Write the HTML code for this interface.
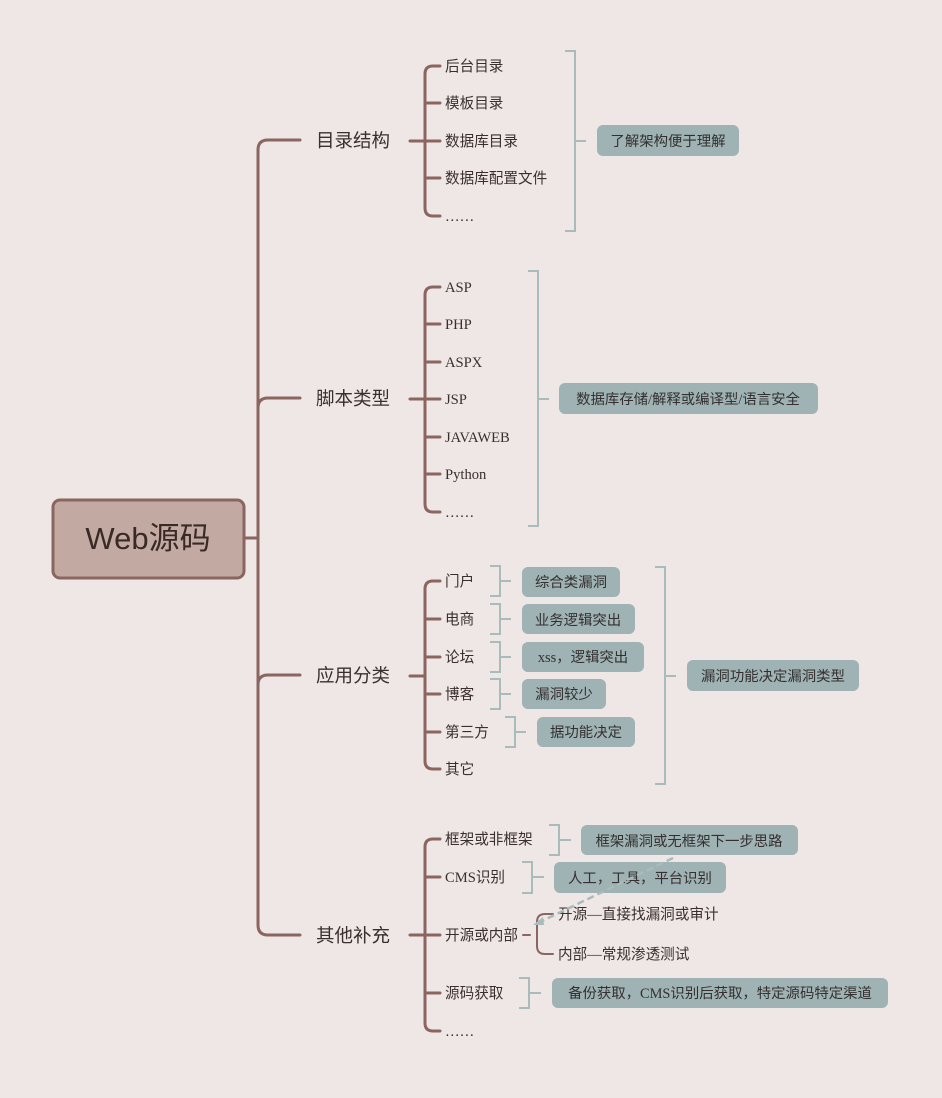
<!DOCTYPE html>
<html><head><meta charset="utf-8"><style>
html,body{margin:0;padding:0;background:#efe7e5;}
svg{display:block}
text{font-family:"Liberation Serif","Noto Sans CJK SC",serif;fill:#3a2f2d;}
.l1{font-size:18.5px;font-family:"Liberation Sans","Noto Sans CJK SC",sans-serif}
.c{font-size:14.6px}
.b{font-size:14.4px;fill:#33302f}
.br{stroke:#8b6660;stroke-width:3;fill:none;stroke-linecap:round}
.bk{stroke:#a9bcbc;stroke-width:2;fill:none}
.box{fill:#9fb2b4}
</style></head><body>
<svg width="942" height="1098" viewBox="0 0 942 1098" xmlns="http://www.w3.org/2000/svg">
<rect x="53" y="500" width="191" height="78" rx="7" fill="#c2aaa3" stroke="#8b6660" stroke-width="3"/>
<text x="148" y="549" text-anchor="middle" style="font-size:31px;font-family:'Liberation Sans','Noto Sans CJK SC',sans-serif;fill:#3a2a26">Web源码</text>
<path class="br" d="M244 538 H258"/>
<path class="br" d="M300 140 H268 Q258 140 258 150 V925 Q258 935 268 935 H300"/>
<path class="br" d="M258 408 Q258 398 268 398 H300"/>
<path class="br" d="M258 685 Q258 675 268 675 H300"/>
<text class="l1" x="316" y="147">目录结构</text>
<text class="l1" x="316" y="405">脚本类型</text>
<text class="l1" x="316" y="682">应用分类</text>
<text class="l1" x="316" y="942">其他补充</text>

<path class="br" d="M410 141 H425"/>
<path class="br" d="M440 66 H433 Q425 66 425 74 V208 Q425 216 433 216 H440"/>
<path class="br" d="M425 103 H440 M425 141 H440 M425 178 H440"/>
<text class="c" x="445" y="71">后台目录</text>
<text class="c" x="445" y="108">模板目录</text>
<text class="c" x="445" y="146">数据库目录</text>
<text class="c" x="445" y="183">数据库配置文件</text>
<text class="c" x="445" y="221">……</text>
<path class="bk" d="M565 51 H575 V231 H565 M575 141 H586"/>
<rect class="box" x="597" y="125" width="142" height="31" rx="6"/>
<text class="b" x="668" y="146" text-anchor="middle">了解架构便于理解</text>

<path class="br" d="M410 399 H425"/>
<path class="br" d="M440 287 H433 Q425 287 425 295 V504 Q425 512 433 512 H440"/>
<path class="br" d="M425 324 H440 M425 362 H440 M425 399 H440 M425 437 H440 M425 474 H440"/>
<text class="c" x="445" y="292">ASP</text>
<text class="c" x="445" y="329">PHP</text>
<text class="c" x="445" y="367">ASPX</text>
<text class="c" x="445" y="404">JSP</text>
<text class="c" x="445" y="442">JAVAWEB</text>
<text class="c" x="445" y="479">Python</text>
<text class="c" x="445" y="517">……</text>
<path class="bk" d="M528 271 H538 V526 H528 M538 399 H549"/>
<rect class="box" x="559" y="383" width="259" height="31" rx="6"/>
<text class="b" x="688" y="404" text-anchor="middle">数据库存储/解释或编译型/语言安全</text>

<path class="br" d="M410 676 H425"/>
<path class="br" d="M440 581 H433 Q425 581 425 589 V761 Q425 769 433 769 H440"/>
<path class="br" d="M425 619 H440 M425 657 H440 M425 694 H440 M425 732 H440"/>
<text class="c" x="445" y="586">门户</text>
<text class="c" x="445" y="624">电商</text>
<text class="c" x="445" y="662">论坛</text>
<text class="c" x="445" y="699">博客</text>
<text class="c" x="445" y="737">第三方</text>
<text class="c" x="445" y="774">其它</text>
<path class="bk" d="M490 566 H500 V596 H490 M500 581 H511"/>
<path class="bk" d="M490 604 H500 V634 H490 M500 619 H511"/>
<path class="bk" d="M490 642 H500 V672 H490 M500 657 H511"/>
<path class="bk" d="M490 679 H500 V709 H490 M500 694 H511"/>
<path class="bk" d="M505 717 H515 V747 H505 M515 732 H526"/>
<rect class="box" x="522" y="567" width="98" height="30" rx="6"/>
<text class="b" x="571" y="587" text-anchor="middle">综合类漏洞</text>
<rect class="box" x="522" y="604" width="113" height="30" rx="6"/>
<text class="b" x="578" y="625" text-anchor="middle">业务逻辑突出</text>
<rect class="box" x="522" y="642" width="122" height="30" rx="6"/>
<text class="b" x="583" y="662" text-anchor="middle">xss，逻辑突出</text>
<rect class="box" x="522" y="679" width="84" height="30" rx="6"/>
<text class="b" x="564" y="699" text-anchor="middle">漏洞较少</text>
<rect class="box" x="537" y="717" width="98" height="30" rx="6"/>
<text class="b" x="586" y="737" text-anchor="middle">据功能决定</text>
<path class="bk" d="M655 567 H665 V784 H655 M665 676 H676"/>
<rect class="box" x="687" y="660" width="172" height="31" rx="6"/>
<text class="b" x="773" y="681" text-anchor="middle">漏洞功能决定漏洞类型</text>

<path class="br" d="M410 935 H425"/>
<path class="br" d="M440 839 H433 Q425 839 425 847 V1023 Q425 1031 433 1031 H440"/>
<path class="br" d="M425 877 H440 M425 935 H440 M425 993 H440"/>
<text class="c" x="445" y="844">框架或非框架</text>
<text class="c" x="445" y="882">CMS识别</text>
<text class="c" x="445" y="940">开源或内部</text>
<text class="c" x="445" y="998">源码获取</text>
<text class="c" x="445" y="1036">……</text>
<path class="bk" d="M549 825 H559 V855 H549 M559 840 H571"/>
<path class="bk" d="M522 862 H532 V893 H522 M532 877 H544"/>
<path class="bk" d="M519 978 H529 V1008 H519 M529 993 H541"/>
<rect class="box" x="581" y="825" width="217" height="30" rx="6"/>
<text class="b" x="689" y="846" text-anchor="middle">框架漏洞或无框架下一步思路</text>
<rect class="box" x="554" y="862" width="172" height="31" rx="6"/>
<text class="b" x="640" y="883" text-anchor="middle">人工，工具，平台识别</text>
<rect class="box" x="552" y="978" width="336" height="30" rx="6"/>
<text class="b" x="720" y="998" text-anchor="middle">备份获取，CMS识别后获取，特定源码特定渠道</text>
<path class="br" d="M523 935 H530 M553 914 H545 Q537 914 537 922 V946 Q537 954 545 954 H553" style="stroke-width:2"/>
<text class="c" x="558" y="919">开源—直接找漏洞或审计</text>
<text class="c" x="558" y="959">内部—常规渗透测试</text>
<path d="M673 858 L540 922" stroke="#a9bcbc" stroke-width="2.5" stroke-dasharray="7,4" fill="none"/>
<path d="M533 925 L543 917 L544 925 Z" fill="#a9bcbc"/>
</svg>
</body></html>
